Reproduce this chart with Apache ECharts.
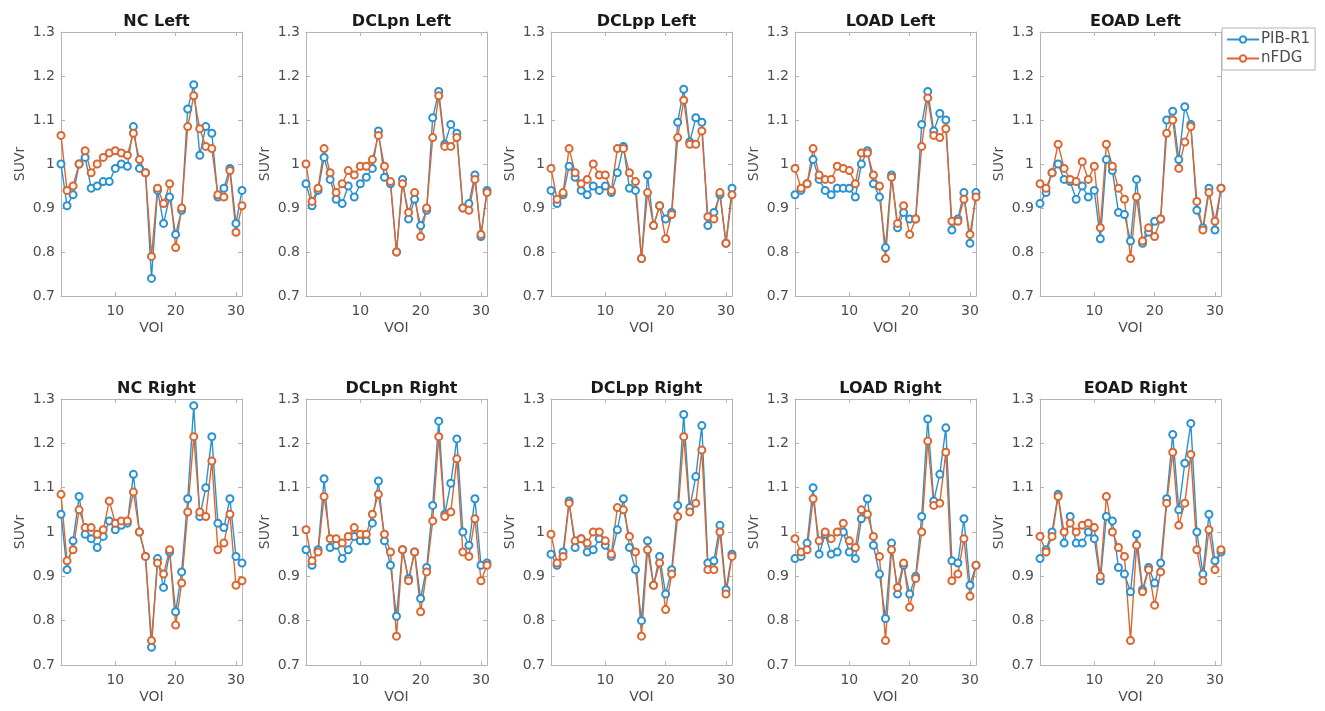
<!DOCTYPE html>
<html>
<head>
<meta charset="utf-8">
<title>SUVr per VOI</title>
<script src="https://cdn.jsdelivr.net/npm/echarts@6/dist/echarts.min.js"></script>
<style>
  html, body { margin: 0; padding: 0; background: #fff; }
  #main { width: 1325px; height: 711px; }
</style>
</head>
<body>
<div id="main"></div>
<script>
// VOI index (x axis)
var voi = [1,2,3,4,5,6,7,8,9,10,11,12,13,14,15,16,17,18,19,20,21,22,23,24,25,26,27,28,29,30,31];
var xTicks = [10, 20, 30];
var yTicks = [0.7, 0.8, 0.9, 1.0, 1.1, 1.2, 1.3];

var panelTitles = ['NC Left', 'DCLpn Left', 'DCLpp Left', 'LOAD Left', 'EOAD Left',
                   'NC Right', 'DCLpn Right', 'DCLpp Right', 'LOAD Right', 'EOAD Right'];

// PIB-R1
var pibNCLeft    = [1.00,0.905,0.93,1.00,1.015,0.945,0.95,0.96,0.96,0.99,1.00,0.995,1.085,0.99,0.98,0.74,0.94,0.865,0.925,0.84,0.895,1.125,1.18,1.02,1.085,1.07,0.925,0.945,0.99,0.865,0.94];
var pibDCLpnLeft = [0.955,0.905,0.94,1.015,0.965,0.92,0.91,0.95,0.925,0.955,0.97,0.99,1.075,0.97,0.955,0.80,0.965,0.875,0.92,0.86,0.895,1.105,1.165,1.045,1.09,1.07,0.90,0.91,0.975,0.835,0.94];
var pibDCLppLeft = [0.94,0.91,0.93,0.995,0.97,0.94,0.93,0.95,0.94,0.95,0.935,0.98,1.04,0.945,0.94,0.785,0.975,0.86,0.905,0.875,0.89,1.095,1.17,1.05,1.105,1.095,0.86,0.89,0.93,0.82,0.945];
var pibLOADLeft  = [0.93,0.94,0.955,1.01,0.965,0.94,0.93,0.945,0.945,0.945,0.925,1.00,1.03,0.955,0.925,0.81,0.975,0.855,0.89,0.875,0.875,1.09,1.165,1.075,1.115,1.10,0.85,0.875,0.935,0.82,0.935];
var pibEOADLeft  = [0.91,0.935,0.98,1.00,0.965,0.96,0.92,0.95,0.925,0.94,0.83,1.01,0.985,0.89,0.885,0.825,0.965,0.82,0.845,0.87,0.875,1.10,1.12,1.01,1.13,1.09,0.895,0.855,0.945,0.85,0.945];
var pibNCRight   = [1.04,0.915,0.98,1.08,0.995,0.985,0.965,0.99,1.025,1.005,1.015,1.02,1.13,1.00,0.945,0.74,0.94,0.875,0.955,0.82,0.91,1.075,1.285,1.035,1.10,1.215,1.02,1.01,1.075,0.945,0.93];
var pibDCLpnRight= [0.96,0.925,0.96,1.12,0.965,0.97,0.94,0.96,0.99,0.98,0.98,1.02,1.115,0.98,0.925,0.81,0.96,0.895,0.955,0.85,0.92,1.06,1.25,1.04,1.11,1.21,1.00,0.97,1.075,0.925,0.93];
var pibDCLppRight= [0.95,0.925,0.955,1.07,0.965,0.985,0.955,0.96,0.985,0.97,0.945,1.005,1.075,0.965,0.915,0.80,0.98,0.88,0.945,0.86,0.915,1.06,1.265,1.055,1.125,1.24,0.93,0.935,1.015,0.87,0.95];
var pibLOADRight = [0.94,0.945,0.975,1.10,0.95,0.995,0.95,0.955,1.00,0.955,0.94,1.03,1.075,0.97,0.905,0.805,0.975,0.86,0.925,0.86,0.90,1.035,1.255,1.07,1.13,1.235,0.935,0.93,1.03,0.88,0.925];
var pibEOADRight = [0.94,0.96,1.00,1.085,0.975,1.035,0.975,0.975,1.00,0.985,0.89,1.035,1.025,0.92,0.905,0.865,0.995,0.87,0.92,0.885,0.93,1.075,1.22,1.05,1.155,1.245,1.00,0.905,1.04,0.935,0.955];

// nFDG
var fdgNCLeft    = [1.065,0.94,0.95,1.00,1.03,0.98,1.00,1.015,1.025,1.03,1.025,1.02,1.07,1.01,0.98,0.79,0.945,0.91,0.955,0.81,0.90,1.085,1.155,1.08,1.04,1.035,0.93,0.925,0.985,0.845,0.905];
var fdgDCLpnLeft = [1.00,0.915,0.945,1.035,0.98,0.935,0.955,0.985,0.975,0.995,0.995,1.01,1.065,0.995,0.96,0.80,0.955,0.89,0.935,0.835,0.90,1.06,1.155,1.04,1.04,1.06,0.90,0.895,0.965,0.84,0.935];
var fdgDCLppLeft = [0.99,0.92,0.935,1.035,0.98,0.955,0.965,1.00,0.975,0.975,0.94,1.035,1.035,0.98,0.96,0.785,0.935,0.86,0.905,0.83,0.885,1.06,1.145,1.045,1.045,1.075,0.88,0.875,0.935,0.82,0.93];
var fdgLOADLeft  = [0.99,0.945,0.955,1.035,0.975,0.965,0.965,0.995,0.99,0.985,0.955,1.025,1.025,0.975,0.95,0.785,0.97,0.865,0.905,0.84,0.875,1.04,1.15,1.065,1.06,1.08,0.87,0.87,0.92,0.84,0.925];
var fdgEOADLeft  = [0.955,0.945,0.98,1.045,0.99,0.965,0.96,1.005,0.965,0.995,0.855,1.045,0.995,0.945,0.92,0.785,0.925,0.825,0.855,0.835,0.875,1.07,1.10,0.99,1.05,1.085,0.915,0.85,0.935,0.87,0.945];
var fdgNCRight   = [1.085,0.935,0.96,1.05,1.01,1.01,0.995,1.005,1.07,1.02,1.025,1.025,1.09,1.00,0.945,0.755,0.93,0.905,0.96,0.79,0.885,1.045,1.215,1.045,1.035,1.16,0.96,0.975,1.04,0.88,0.89];
var fdgDCLpnRight= [1.005,0.935,0.955,1.08,0.985,0.985,0.975,0.99,1.01,0.995,0.995,1.04,1.085,0.995,0.955,0.765,0.96,0.89,0.955,0.82,0.91,1.025,1.215,1.035,1.045,1.165,0.955,0.945,1.03,0.89,0.925];
var fdgDCLppRight= [0.995,0.93,0.945,1.065,0.98,0.985,0.975,1.00,1.00,0.98,0.95,1.055,1.05,0.99,0.955,0.765,0.96,0.88,0.93,0.825,0.905,1.035,1.215,1.045,1.065,1.185,0.915,0.915,1.00,0.86,0.945];
var fdgLOADRight = [0.985,0.955,0.96,1.075,0.98,1.00,0.985,1.00,1.02,0.98,0.965,1.05,1.04,0.99,0.945,0.755,0.96,0.875,0.93,0.83,0.895,1.00,1.205,1.06,1.065,1.18,0.89,0.905,0.985,0.855,0.925];
var fdgEOADRight = [0.99,0.955,0.99,1.08,1.00,1.02,1.00,1.015,1.02,1.01,0.90,1.08,1.00,0.965,0.945,0.755,0.97,0.865,0.915,0.835,0.91,1.065,1.18,1.015,1.065,1.175,0.96,0.89,1.005,0.915,0.96];

var pibAll = [pibNCLeft, pibDCLpnLeft, pibDCLppLeft, pibLOADLeft, pibEOADLeft,
              pibNCRight, pibDCLpnRight, pibDCLppRight, pibLOADRight, pibEOADRight];
var fdgAll = [fdgNCLeft, fdgDCLpnLeft, fdgDCLppLeft, fdgLOADLeft, fdgEOADLeft,
              fdgNCRight, fdgDCLpnRight, fdgDCLppRight, fdgLOADRight, fdgEOADRight];

var myChart = echarts.init(document.getElementById('main'));

var FONT = 'DejaVu Sans';
var lefts = [61, 306, 551, 795, 1040];
var tops = [32, 399];
var heights = [264, 266];
var W = 181;
var boxColor = '#b4b4b4';
var textColor = '#4d4d4d';

function pairs(arr) {
    return arr.map(function (v, i) { return [voi[i], v]; });
}

var grids = [], xAxes = [], yAxes = [], titles = [], series = [];

for (var p = 0; p < 10; p++) {
    var row = Math.floor(p / 5), col = p % 5;
    grids.push({ left: lefts[col], top: tops[row], width: W, height: heights[row], containLabel: false });
    titles.push({
        text: panelTitles[p], left: lefts[col] + W / 2, top: tops[row] - 23, textAlign: 'center',
        textStyle: { fontFamily: FONT, fontSize: 16, fontWeight: 'bold', color: '#1a1a1a' }
    });
    // bottom x axis
    xAxes.push({
        type: 'value', gridIndex: p, min: 1, max: 31, position: 'bottom',
        name: 'VOI', nameLocation: 'middle', nameGap: 25,
        nameTextStyle: { fontFamily: FONT, fontSize: 14, color: textColor },
        axisLine: { show: true, onZero: false, lineStyle: { color: boxColor } },
        axisTick: { show: true, inside: true, length: 4, lineStyle: { color: boxColor }, customValues: xTicks },
        axisLabel: { fontFamily: FONT, fontSize: 14, color: textColor, margin: 8, customValues: xTicks },
        splitLine: { show: false }
    });
    // top x axis (box)
    xAxes.push({
        type: 'value', gridIndex: p, min: 1, max: 31, position: 'top',
        axisLine: { show: true, onZero: false, lineStyle: { color: boxColor } },
        axisTick: { show: true, inside: true, length: 4, lineStyle: { color: boxColor }, customValues: xTicks },
        axisLabel: { show: false },
        splitLine: { show: false }
    });
    // left y axis
    yAxes.push({
        type: 'value', gridIndex: p, min: 0.7, max: 1.3, position: 'left',
        name: 'SUVr', nameLocation: 'middle', nameGap: 34, nameRotate: 90,
        nameTextStyle: { fontFamily: FONT, fontSize: 14, color: textColor },
        axisLine: { show: true, onZero: false, lineStyle: { color: boxColor } },
        axisTick: { show: true, inside: true, length: 4, lineStyle: { color: boxColor }, customValues: yTicks },
        axisLabel: {
            fontFamily: FONT, fontSize: 14, color: textColor, margin: 6, customValues: yTicks,
            formatter: function (v) { return String(+(+v).toFixed(1)); }
        },
        splitLine: { show: false }
    });
    // right y axis (box)
    yAxes.push({
        type: 'value', gridIndex: p, min: 0.7, max: 1.3, position: 'right',
        axisLine: { show: true, onZero: false, lineStyle: { color: boxColor } },
        axisTick: { show: true, inside: true, length: 4, lineStyle: { color: boxColor }, customValues: yTicks },
        axisLabel: { show: false },
        splitLine: { show: false }
    });

    series.push({
        name: 'PIB-R1', type: 'line', xAxisIndex: 2 * p, yAxisIndex: 2 * p,
        data: pairs(pibAll[p]),
        symbol: 'emptyCircle', symbolSize: 7,
        lineStyle: { color: '#2a92d0', width: 1.4 },
        itemStyle: { color: '#2a92d0', borderColor: '#6cc0ea', borderWidth: 1.5 },
        silent: true, animation: false
    });
    series.push({
        name: 'nFDG', type: 'line', xAxisIndex: 2 * p, yAxisIndex: 2 * p,
        data: pairs(fdgAll[p]),
        symbol: 'emptyCircle', symbolSize: 7,
        lineStyle: { color: '#dc6630', width: 1.4 },
        itemStyle: { color: '#dc6630', borderColor: '#efa37a', borderWidth: 1.5 },
        silent: true, animation: false
    });
}

var option = {
    backgroundColor: '#ffffff',
    animation: false,
    title: titles,
    grid: grids,
    xAxis: xAxes,
    yAxis: yAxes,
    legend: {
        data: ['PIB-R1', 'nFDG'],
        orient: 'vertical', left: 1222, top: 28,
        itemWidth: 32, itemHeight: 8, itemGap: 4,
        padding: [4, 5, 4, 4],
        borderColor: '#b4b4b4', borderWidth: 1,
        textStyle: { fontFamily: FONT, fontSize: 15, color: textColor, padding: [0, 0, 0, -3] },
        selectedMode: false
    },
    series: series
};

myChart.setOption(option);
</script>
</body>
</html>
